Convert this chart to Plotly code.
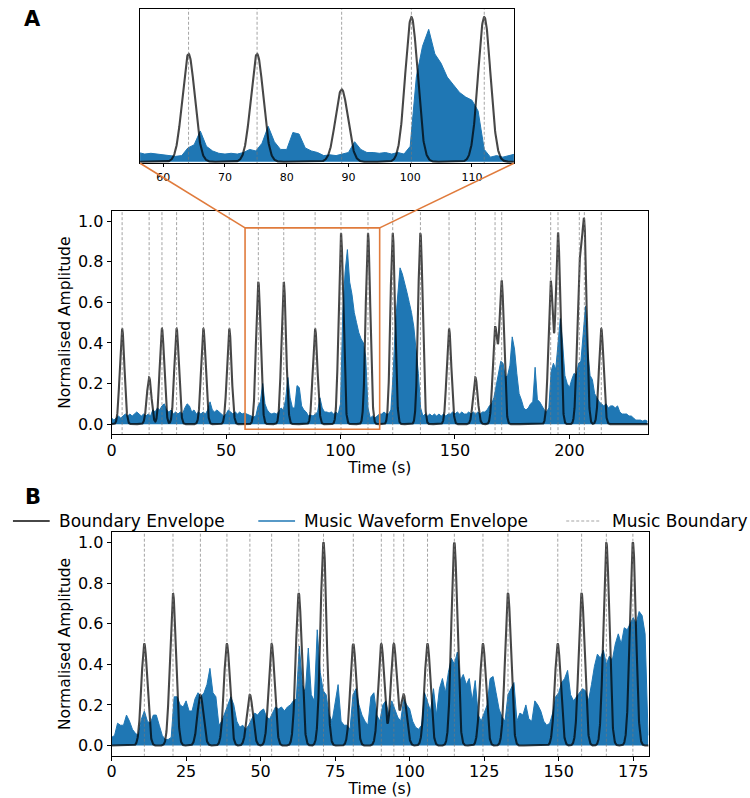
import numpy as np
import plotly.graph_objects as go

# ---------------- data ----------------
# Panel A: music boundaries (s) and boundary-envelope peak heights
a_boundaries = [4.6, 16.4, 22.0, 28.4, 40.1, 51.4, 64.1, 75.2, 88.9, 100.2, 112.0,
                122.8, 134.9, 147.4, 158.9, 167.5, 170.4, 191.8, 195.0, 204.3, 206.5, 213.9]
a_heights = [0.47, 0.23, 0.47, 0.47, 0.47, 0.47, 0.70, 0.70, 0.47, 0.94, 0.94,
             0.94, 0.94, 0.47, 0.23, 0.47, 0.70, 0.70, 0.94, 0.70, 0.94, 0.47]
# Panel A: music waveform envelope, one value per second (t = 0..234 s)
a_wave = [
    0.03, 0.02, 0.03, 0.04, 0.03, 0.04, 0.05, 0.04, 0.05, 0.04,
    0.05, 0.06, 0.05, 0.04, 0.05, 0.04, 0.05, 0.04, 0.07, 0.06,
    0.08, 0.07, 0.09, 0.10, 0.07, 0.06, 0.07, 0.05, 0.06, 0.05,
    0.06, 0.05, 0.08, 0.10, 0.09, 0.06, 0.07, 0.05, 0.06, 0.05,
    0.06, 0.05, 0.07, 0.11, 0.07, 0.06, 0.07, 0.06, 0.05, 0.04,
    0.05, 0.07, 0.06, 0.05, 0.06, 0.05, 0.06, 0.05, 0.055, 0.05,
    0.045, 0.04, 0.035, 0.04, 0.09, 0.11, 0.20, 0.10, 0.07, 0.055,
    0.05, 0.055, 0.05, 0.06, 0.08, 0.07, 0.12, 0.23, 0.13, 0.08,
    0.08, 0.19, 0.18, 0.09, 0.07, 0.06, 0.04, 0.045, 0.04, 0.05,
    0.06, 0.13, 0.08, 0.06, 0.06, 0.055, 0.06, 0.05, 0.06, 0.05,
    0.10, 0.55, 0.75, 0.86, 0.70, 0.64, 0.55, 0.50, 0.45, 0.42,
    0.40, 0.33, 0.08, 0.03, 0.04, 0.03, 0.04, 0.05, 0.05, 0.06,
    0.05, 0.05, 0.07, 0.25, 0.50, 0.65, 0.77, 0.74, 0.70, 0.65,
    0.60, 0.55, 0.48, 0.37, 0.25, 0.08, 0.04, 0.05, 0.04, 0.05,
    0.04, 0.05, 0.04, 0.05, 0.04, 0.05, 0.04, 0.05, 0.05, 0.06,
    0.05, 0.06, 0.05, 0.06, 0.05, 0.05, 0.06, 0.05, 0.06, 0.05,
    0.06, 0.05, 0.06, 0.06, 0.07, 0.09, 0.10, 0.13, 0.19, 0.26,
    0.31, 0.30, 0.23, 0.24, 0.29, 0.43, 0.37, 0.25, 0.15, 0.12,
    0.08, 0.07, 0.08, 0.10, 0.11, 0.28, 0.12, 0.11, 0.09, 0.07,
    0.06, 0.08, 0.26, 0.30, 0.27, 0.38, 0.52, 0.40, 0.24, 0.20,
    0.18, 0.22, 0.25, 0.24, 0.30, 0.31, 0.45, 0.58, 0.36, 0.24,
    0.22, 0.15, 0.13, 0.11, 0.10, 0.09, 0.10, 0.08, 0.09, 0.09,
    0.08, 0.09, 0.06, 0.05, 0.05, 0.05, 0.04, 0.04, 0.03, 0.02,
    0.02, 0.02, 0.015, 0.02, 0.015,
]

# Panel B
b_boundaries = [11.0, 20.6, 29.8, 38.7, 46.4, 53.7, 62.8, 71.1, 81.1, 90.5,
                94.7, 98.0, 106.0, 115.0, 124.6, 133.0, 149.7, 157.7, 166.0, 174.9]
b_heights = [0.50, 0.75, 0.25, 0.50, 0.25, 0.50, 0.75, 1.00, 0.50, 0.50,
             0.50, 0.25, 0.50, 1.00, 0.50, 0.75, 0.50, 0.75, 1.00, 1.00]
# Panel B: music waveform envelope, one value per second (t = 0..180 s)
b_wave = [
    0.04, 0.05, 0.11, 0.10, 0.10, 0.15, 0.12, 0.08, 0.06, 0.05,
    0.13, 0.17, 0.12, 0.11, 0.15, 0.15, 0.10, 0.05, 0.03, 0.03,
    0.04, 0.24, 0.24, 0.20, 0.19, 0.22, 0.17, 0.17, 0.23, 0.26,
    0.24, 0.26, 0.30, 0.38, 0.26, 0.24, 0.10, 0.12, 0.16, 0.20,
    0.24, 0.20, 0.12, 0.09, 0.10, 0.08, 0.10, 0.13, 0.16, 0.15,
    0.17, 0.18, 0.14, 0.13, 0.16, 0.19, 0.18, 0.19, 0.17, 0.19,
    0.20, 0.22, 0.23, 0.49, 0.30, 0.26, 0.48, 0.25, 0.22, 0.57,
    0.36, 0.27, 0.25, 0.15, 0.12, 0.20, 0.30, 0.12, 0.10, 0.10,
    0.08, 0.25, 0.28, 0.20, 0.15, 0.12, 0.10, 0.24, 0.26, 0.15,
    0.12, 0.20, 0.22, 0.15, 0.22, 0.18, 0.14, 0.12, 0.23, 0.20,
    0.18, 0.12, 0.09, 0.08, 0.10, 0.26, 0.22, 0.17, 0.28, 0.15,
    0.28, 0.33, 0.26, 0.36, 0.43, 0.40, 0.46, 0.32, 0.35, 0.30,
    0.33, 0.22, 0.32, 0.15, 0.12, 0.16, 0.20, 0.33, 0.34, 0.26,
    0.18, 0.14, 0.12, 0.25, 0.28, 0.31, 0.12, 0.16, 0.15, 0.20,
    0.13, 0.12, 0.22, 0.20, 0.17, 0.12, 0.10, 0.11, 0.16, 0.24,
    0.26, 0.31, 0.33, 0.37, 0.25, 0.22, 0.24, 0.26, 0.28, 0.27,
    0.22, 0.30, 0.39, 0.45, 0.43, 0.47, 0.40, 0.44, 0.42, 0.50,
    0.55, 0.50, 0.58, 0.57, 0.60, 0.63, 0.60, 0.66, 0.64, 0.55,
    0.05,
]

inset_range = [56.25, 116.8]
zoom_rect_x = [58.3, 117.1]
zoom_rect_y = [-0.025, 0.967]
SIGMA = 1.0  # width (s) of each boundary Gaussian

# ---------------- helpers ----------------
W, H = 750, 798
FONT = "DejaVu Sans"
BLUE = "#1f77b4"
ENV = "rgba(0,0,0,0.72)"
DASH = "rgba(120,120,120,0.85)"
ORANGE = "#e07b3c"
TICK_SIZE = 16
TITLE_SIZE = 15.5


def envelope(t, centers, heights):
    env = np.zeros_like(t)
    for c, h in zip(centers, heights):
        env += h * np.exp(-0.5 * ((t - c) / SIGMA) ** 2)
    return env


def vlines(bounds):
    xs, ys = [], []
    for b in bounds:
        xs += [b, b, None]
        ys += [-2, 2, None]
    return xs, ys


def dom(px0, px1):
    return [px0 / W, px1 / W]


def vdom(py_top, py_bot):
    return [1 - py_bot / H, 1 - py_top / H]


ta = np.arange(len(a_wave))
tb = np.arange(len(b_wave))
fine_a = np.arange(0, 234.3, 0.05)
fine_b = np.arange(0, 180.2, 0.05)
env_a = envelope(fine_a, a_boundaries, a_heights)
env_b = envelope(fine_b, b_boundaries, b_heights)

fig = go.Figure()


def add_panel(xa, ya, t, wave, tf, env, bounds):
    fig.add_trace(go.Scatter(x=t, y=wave, mode="lines", fill="tozeroy",
                             line=dict(color=BLUE, width=1), fillcolor=BLUE,
                             xaxis=xa, yaxis=ya, showlegend=False, hoverinfo="skip"))
    fig.add_trace(go.Scatter(x=tf, y=env, mode="lines",
                             line=dict(color=ENV, width=2.1),
                             xaxis=xa, yaxis=ya, showlegend=False, hoverinfo="skip"))
    vx, vy = vlines(bounds)
    fig.add_trace(go.Scatter(x=vx, y=vy, mode="lines",
                             line=dict(color=DASH, width=0.8, dash="3px,2px"),
                             xaxis=xa, yaxis=ya, showlegend=False, hoverinfo="skip"))


add_panel("x", "y", ta, a_wave, fine_a, env_a, a_boundaries)      # inset
add_panel("x2", "y2", ta, a_wave, fine_a, env_a, a_boundaries)    # panel A
add_panel("x3", "y3", tb, b_wave, fine_b, env_b, b_boundaries)    # panel B

axis_common = dict(showline=True, mirror=True, linecolor="black", linewidth=1,
                   showgrid=False, zeroline=False, ticks="outside",
                   tickcolor="black", ticklen=4, tickwidth=1,
                   tickfont=dict(family=FONT, size=TICK_SIZE, color="black"))
title_font = dict(family=FONT, size=TITLE_SIZE, color="black")

# geometry (pixels of the 750x798 page)
ins_x = dom(136, 512.3)
ins_y = vdom(9.3, 163.3)
inset_yrange = [-0.01, 0.99]
a_x = dom(107.3, 647.3)
a_y = vdom(211, 434.3)
a_xrange = [0, 234.3]
b_x = dom(107.3, 648)
b_y = vdom(532.3, 755.7)
b_xrange = [0, 180.2]
yrange = [-0.05, 1.05]

fig.update_layout(
    xaxis=dict(axis_common, domain=ins_x, range=inset_range, anchor="y",
               tickvals=[60, 70, 80, 90, 100, 110], ticklen=3,
               tickfont=dict(family=FONT, size=11, color="black")),
    yaxis=dict(axis_common, domain=ins_y, range=inset_yrange, anchor="x",
               showticklabels=False, ticks=""),
    xaxis2=dict(axis_common, domain=a_x, range=a_xrange, anchor="y2",
                tickvals=[0, 50, 100, 150, 200], ticklabelstandoff=-3,
                title=dict(text="Time (s)", standoff=0, font=title_font)),
    yaxis2=dict(axis_common, domain=a_y, range=yrange, anchor="x2",
                tickvals=[0, 0.2, 0.4, 0.6, 0.8, 1.0], tickformat=".1f",
                title=dict(text="Normalised Amplitude", standoff=3, font=title_font)),
    xaxis3=dict(axis_common, domain=b_x, range=b_xrange, anchor="y3",
                tickvals=[0, 25, 50, 75, 100, 125, 150, 175], ticklabelstandoff=-3,
                title=dict(text="Time (s)", standoff=0, font=title_font)),
    yaxis3=dict(axis_common, domain=b_y, range=yrange, anchor="x3",
                tickvals=[0, 0.2, 0.4, 0.6, 0.8, 1.0], tickformat=".1f",
                title=dict(text="Normalised Amplitude", standoff=3, font=title_font)),
    width=W, height=H, autosize=False,
    margin=dict(l=0, r=0, t=0, b=0),
    paper_bgcolor="white", plot_bgcolor="white",
    font=dict(family=FONT, color="black"),
    showlegend=False,
)

# zoom rectangle on panel A
fig.add_shape(type="rect", xref="x2", yref="y2",
              x0=zoom_rect_x[0], x1=zoom_rect_x[1], y0=zoom_rect_y[0], y1=zoom_rect_y[1],
              line=dict(color=ORANGE, width=1.6), layer="above")


def to_paper(x, y, xd, xr, yd, yr):
    px = xd[0] + (x - xr[0]) / (xr[1] - xr[0]) * (xd[1] - xd[0])
    py = yd[0] + (y - yr[0]) / (yr[1] - yr[0]) * (yd[1] - yd[0])
    return px, py


# connectors: inset bottom corners -> rectangle top corners
for ix, rx in [(0, zoom_rect_x[0]), (1, zoom_rect_x[1])]:
    px1, py1 = ins_x[ix], ins_y[0]
    px2, py2 = to_paper(rx, zoom_rect_y[1], a_x, a_xrange, a_y, yrange)
    fig.add_shape(type="line", xref="paper", yref="paper",
                  x0=px1, y0=py1, x1=px2, y1=py2,
                  line=dict(color=ORANGE, width=1.6), layer="above")

# panel letters
for letter, yy in [("A", 19), ("B", 497)]:
    fig.add_annotation(text=f"<b>{letter}</b>", x=28 / W, y=1 - yy / H,
                       xref="paper", yref="paper", showarrow=False,
                       xanchor="center", yanchor="middle",
                       font=dict(family=FONT, size=21, color="black"))

# legend (panel B)
leg_y = 1 - 521 / H
legend_items = [
    ("Boundary Envelope", 8, 45, 52, dict(color="rgba(0,0,0,0.72)", width=2)),
    ("Music Waveform Envelope", 255, 292, 299, dict(color=BLUE, width=1.5)),
    ("Music Boundary", 565, 600, 609, dict(color=DASH, width=0.8, dash="3px,2px")),
]
for label, lx0, lx1, tx, ls in legend_items:
    fig.add_shape(type="line", xref="paper", yref="paper",
                  x0=lx0 / W, x1=lx1 / W, y0=leg_y, y1=leg_y, line=ls)
    fig.add_annotation(text=label, x=tx / W, y=leg_y, xref="paper", yref="paper",
                       showarrow=False, xanchor="left", yanchor="middle",
                       font=dict(family=FONT, size=17, color="black"))

fig.write_html("out.html")
